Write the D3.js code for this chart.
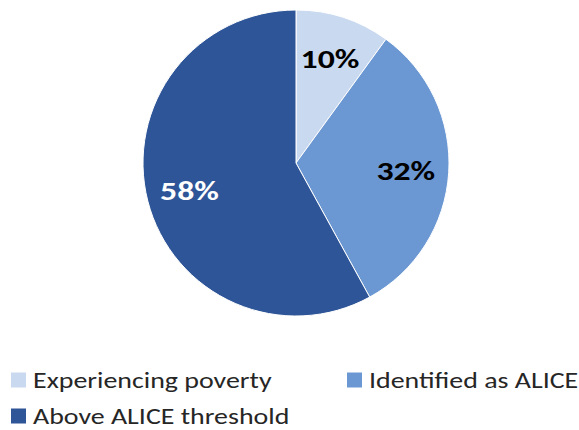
<!DOCTYPE html>
<html>
<head>
<meta charset="utf-8">
<script src="https://cdn.jsdelivr.net/npm/d3@7"></script>
<style>
  body { margin: 0; background: #fff; }
  svg { display: block; }
</style>
</head>
<body>
<div id="chart"></div>
<script>
(function chart() {

    // Data
    const categories = ["Experiencing poverty", "Identified as ALICE", "Above ALICE threshold"];
    const values = [10, 32, 58];
    const colors = ["#C9D9F0", "#6B97D3", "#2E5597"];
    const labelColors = ["#000", "#000", "#fff"];

    const WIDTH = 579;
    const HEIGHT = 430;
    const FONT = "Carlito, Lato, 'Open Sans', sans-serif";

    const cx = 296, cy = 163, radius = 153;

    const svg = d3.select("#chart").append("svg")
        .attr("width", WIDTH)
        .attr("height", HEIGHT);

    const pie = d3.pie().sort(null).value(d => d);
    const arcs = pie(values);

    const arc = d3.arc().innerRadius(0).outerRadius(radius);
    const labelArc = d3.arc().innerRadius(110).outerRadius(110);

    const g = svg.append("g").attr("transform", `translate(${cx},${cy})`);

    g.selectAll("path")
        .data(arcs)
        .join("path")
        .attr("d", arc)
        .attr("fill", (d, i) => colors[i])
        .attr("stroke", "#fff")
        .attr("stroke-width", 1);

    // label text is a bit wider than Lato, stretch it horizontally
    g.selectAll("text")
        .data(arcs)
        .join("text")
        .attr("transform", d => `translate(${labelArc.centroid(d)}) scale(1.25,1)`)
        .attr("text-anchor", "middle")
        .attr("dy", "0.36em")
        .attr("fill", (d, i) => labelColors[i])
        .style("font-family", FONT)
        .style("font-size", "27px")
        .style("font-weight", "bold")
        .text(d => d.data + "%");

    // Legend
    const legendPos = [[11, 380], [347, 380], [11, 416]];
    const legend = svg.append("g")
        .selectAll("g")
        .data(categories)
        .join("g")
        .attr("transform", (d, i) => `translate(${legendPos[i][0]},${legendPos[i][1]})`);

    legend.append("rect")
        .attr("x", 0)
        .attr("y", -7.5)
        .attr("width", 15)
        .attr("height", 15)
        .attr("fill", (d, i) => colors[i]);

    legend.append("text")
        .attr("transform", "translate(22,0) scale(1.27,1)")
        .attr("dy", "0.36em")
        .attr("fill", "#262626")
        .style("font-family", FONT)
        .style("font-size", "22px")
        .text(d => d);

})();
</script>
</body>
</html>
